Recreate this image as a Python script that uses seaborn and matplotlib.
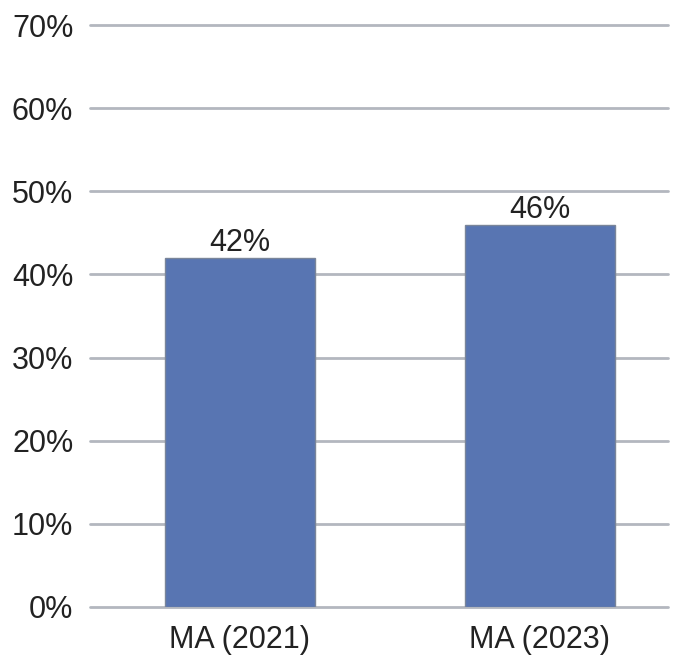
import matplotlib
matplotlib.use("Agg")
import matplotlib.pyplot as plt
import seaborn as sns
import pandas as pd
from matplotlib.ticker import FuncFormatter, MultipleLocator

categories = ["MA (2021)", "MA (2023)"]
values = [0.42, 0.46]
value_labels = ["42%", "46%"]

sns.set_theme(style="white")
plt.rcParams["font.family"] = ["Liberation Sans", "DejaVu Sans"]

df = pd.DataFrame({"category": categories, "value": values})

fig = plt.figure(figsize=(6.84, 6.55), dpi=100)
ax = fig.add_axes([0.1316, 0.0733, 0.845, 0.8885])

sns.barplot(data=df, x="category", y="value", ax=ax, color="#5875B2",
            saturation=1, width=0.5, edgecolor="#7a8599", linewidth=1.0,
            zorder=3)

ax.set_ylim(0, 0.70)
ax.set_xlim(-0.5, 1.427)
ax.yaxis.set_major_locator(MultipleLocator(0.10))
ax.yaxis.set_major_formatter(FuncFormatter(lambda v, _: f"{v * 100:.0f}%"))
ax.grid(axis="y", color="#b3b7bf", linewidth=2, zorder=0)
for gl in ax.get_ygridlines():
    gl.set_clip_on(False)
ax.set_axisbelow(True)
for s in ax.spines.values():
    s.set_visible(False)
ax.set_xlabel("")
ax.set_ylabel("")
ax.tick_params(axis="both", length=0, labelsize=22, colors="#222222")
ax.tick_params(axis="y", pad=12)
ax.tick_params(axis="x", pad=13)

for cont in ax.containers:
    ax.bar_label(cont, labels=value_labels, fontsize=22, color="#222222", padding=0)

fig.savefig("out.png", dpi=100)
